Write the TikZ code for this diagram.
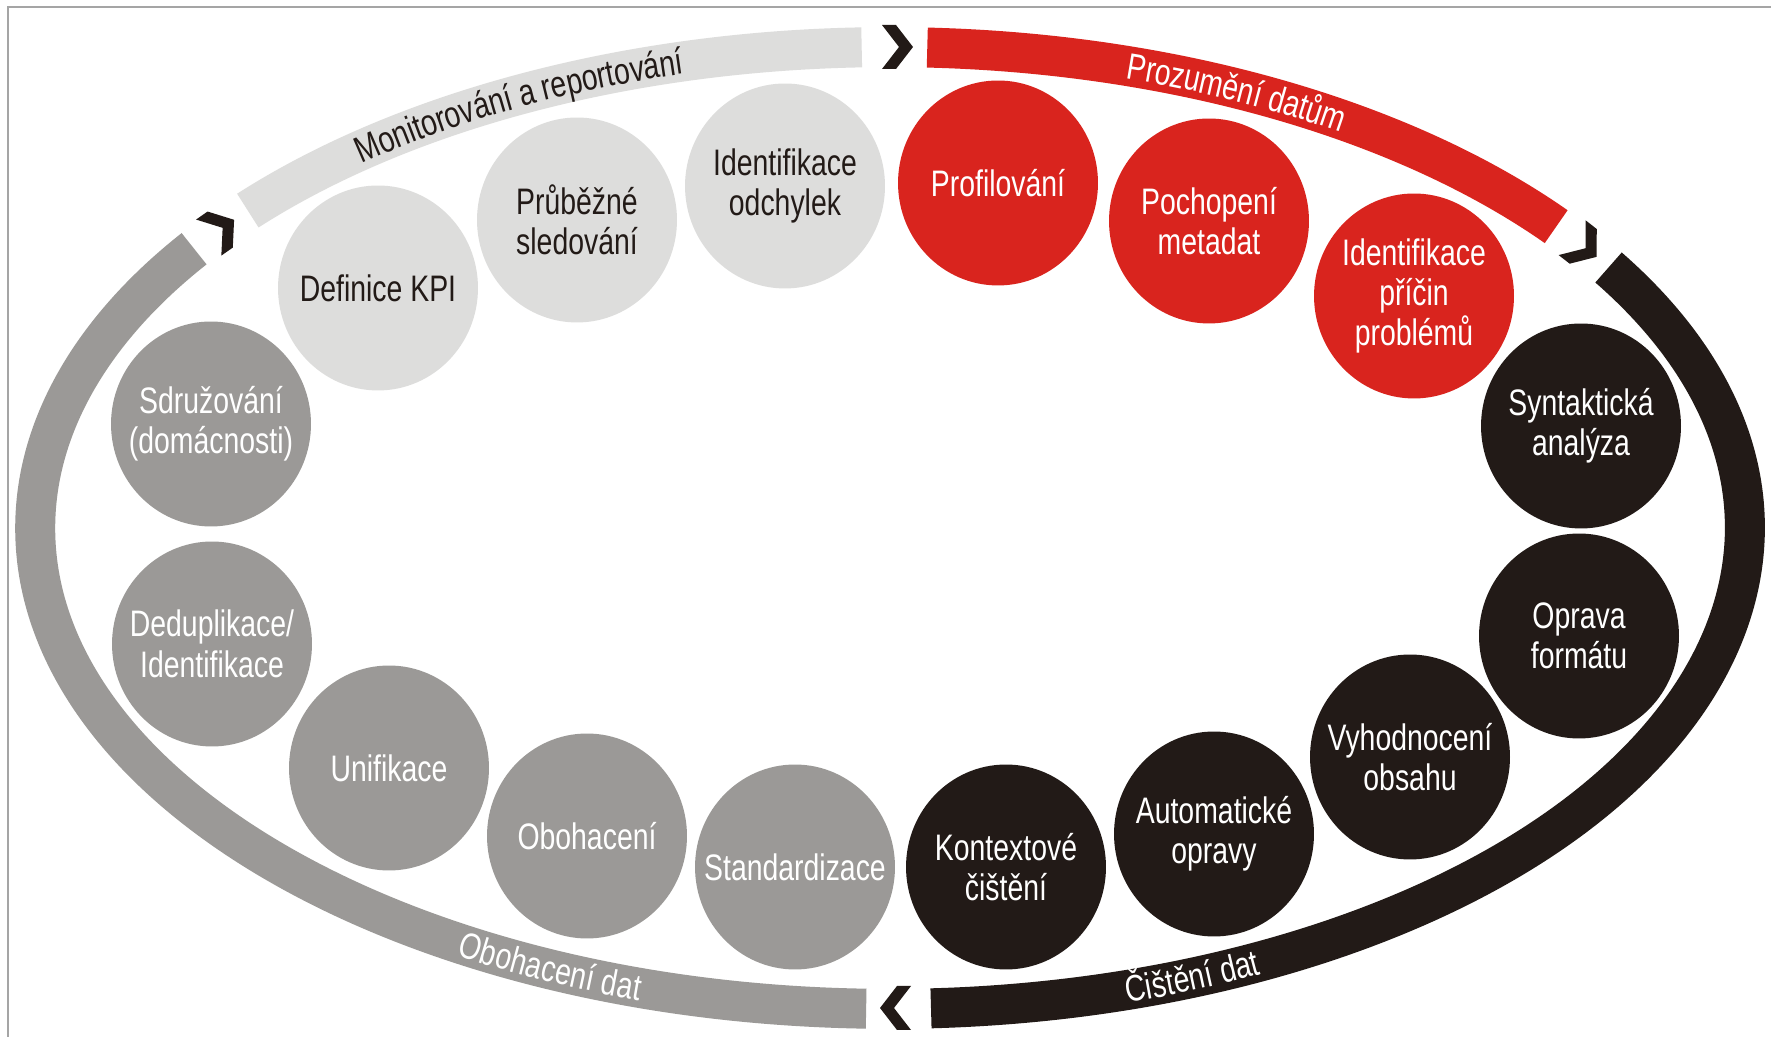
\documentclass[tikz,border=0pt]{standalone}
\usepackage{fontspec}
\setmainfont{Liberation Sans}[FakeStretch=0.77]
\usetikzlibrary{shapes.geometric,decorations.text}
\definecolor{lgray}{RGB}{221,221,220}
\definecolor{cred}{RGB}{217,36,30}
\definecolor{cblack}{RGB}{34,26,23}
\definecolor{mgray}{RGB}{155,153,151}
\definecolor{framec}{RGB}{165,165,165}
\newcommand{\cfont}{\fontsize{21pt}{23pt}\selectfont}
\tikzset{
  chev/.pic={\fill[cblack] (-15,22) -- (-1,22) -- (16,0) -- (-1,-22) -- (-15,-22) -- (2,0) -- cycle;},
  bub/.style={ellipse, inner sep=0pt, minimum width=4cm, minimum height=4.1cm},
  btxt/.style={align=center, font=\cfont, inner sep=0pt},
  lbub/.style={bub, fill=lgray, label={[btxt, text=cblack]center:{#1}}},
  rbub/.style={bub, fill=cred, label={[btxt, text=white]center:{#1}}},
  kbub/.style={bub, fill=cblack, label={[btxt, text=white]center:{#1}}},
  gbub/.style={bub, fill=mgray, label={[btxt, text=white]center:{#1}}},
  band/.style={line width=0.8cm, line cap=butt},
}
\begin{document}
\begin{tikzpicture}[x=0.02cm,y=0.02cm]
\useasboundingbox (0,0) rectangle (1771,1037);
\fill[white] (0,0) rectangle (1771,1037);
\draw[framec, line width=0.04cm] (8,0) -- (8,1030) -- (1771,1030);
\coordinate (C) at (890,509);
\begin{scope}
\clip (0,0) rectangle (1771,1037);
% bands
\draw[band, lgray] (C) ++(138.7:17.1cm and 9.62cm) arc[start angle=138.7, end angle=91.9, x radius=17.1cm, y radius=9.62cm];
\draw[band, cred] (C) ++(87.5:17.1cm and 9.62cm) arc[start angle=87.5, end angle=38.8, x radius=17.1cm, y radius=9.62cm];
\draw[band, cblack] (C) ++(32.8:17.1cm and 9.62cm) arc[start angle=32.8, end angle=-87.25, x radius=17.1cm, y radius=9.62cm];
\draw[band, mgray] (C) ++(268.4:17.1cm and 9.62cm) arc[start angle=268.4, end angle=144.5, x radius=17.1cm, y radius=9.62cm];
\end{scope}
% band labels
\path[decorate, decoration={text along path, text align=center, raise=-0.25cm, text={|\cfont\color{cblack}|Monitorování a reportování}}]
  (C) ++(137:17.1cm and 9.62cm) arc[start angle=137, end angle=97, x radius=17.1cm, y radius=9.62cm];
\path[decorate, decoration={text along path, text align=center, raise=-0.25cm, text={|\cfont\color{white}|Prozumění datům}}]
  (C) ++(85:17.1cm and 9.62cm) arc[start angle=85, end angle=45, x radius=17.1cm, y radius=9.62cm];
\path[decorate, decoration={text along path, text align=center, raise=-0.25cm, text={|\cfont\color{white}|Čištění dat}}]
  (C) ++(276.2:17.1cm and 9.62cm) arc[start angle=276.2, end angle=306.2, x radius=17.1cm, y radius=9.62cm];
\path[decorate, decoration={text along path, text align=center, raise=-0.25cm, text={|\cfont\color{white}|Obohacení dat}}]
  (C) ++(231:17.1cm and 9.62cm) arc[start angle=231, end angle=261, x radius=17.1cm, y radius=9.62cm];
% chevrons
\pic at (897,990) {chev};
\pic[rotate=180] at (896,29) {chev};
\pic[rotate=-38] at (1584,790) {chev};
\pic[rotate=35] at (221,808) {chev};
% circles
\node[lbub={Definice KPI}] (kpi) at (378,749) {};
\node[lbub={Průběžné\\sledování}] (prub) at (577,817) {};
\node[lbub={Identifikace\\odchylek}] (odch) at (785,851) {};
\node[rbub={Profilování}] (prof) at (998,854) {};
\node[rbub={Pochopení\\metadat}] (poch) at (1209,816) {};
\node[rbub={Identifikace\\příčin\\problémů}] (pric) at (1414,741) {};
\node[kbub={Syntaktická\\analýza}] (synt) at (1581,611) {};
\node[kbub={Oprava\\formátu}] (oprf) at (1579,401) {};
\node[kbub={Vyhodnocení\\obsahu}] (vyh) at (1410,280) {};
\node[kbub={Automatické\\opravy}] (auto) at (1214,203) {};
\node[kbub={Kontextové\\čištění}] (kont) at (1006,170) {};
\node[gbub={Standardizace}] (stan) at (795,170) {};
\node[gbub={Obohacení}] (oboh) at (587,201) {};
\node[gbub={Unifikace}] (unif) at (389,269) {};
\node[gbub={Deduplikace/\\Identifikace}] (dedu) at (212,393) {};
\node[gbub={Sdružování\\(domácnosti)}] (sdru) at (211,613) {};
\end{tikzpicture}
\end{document}
